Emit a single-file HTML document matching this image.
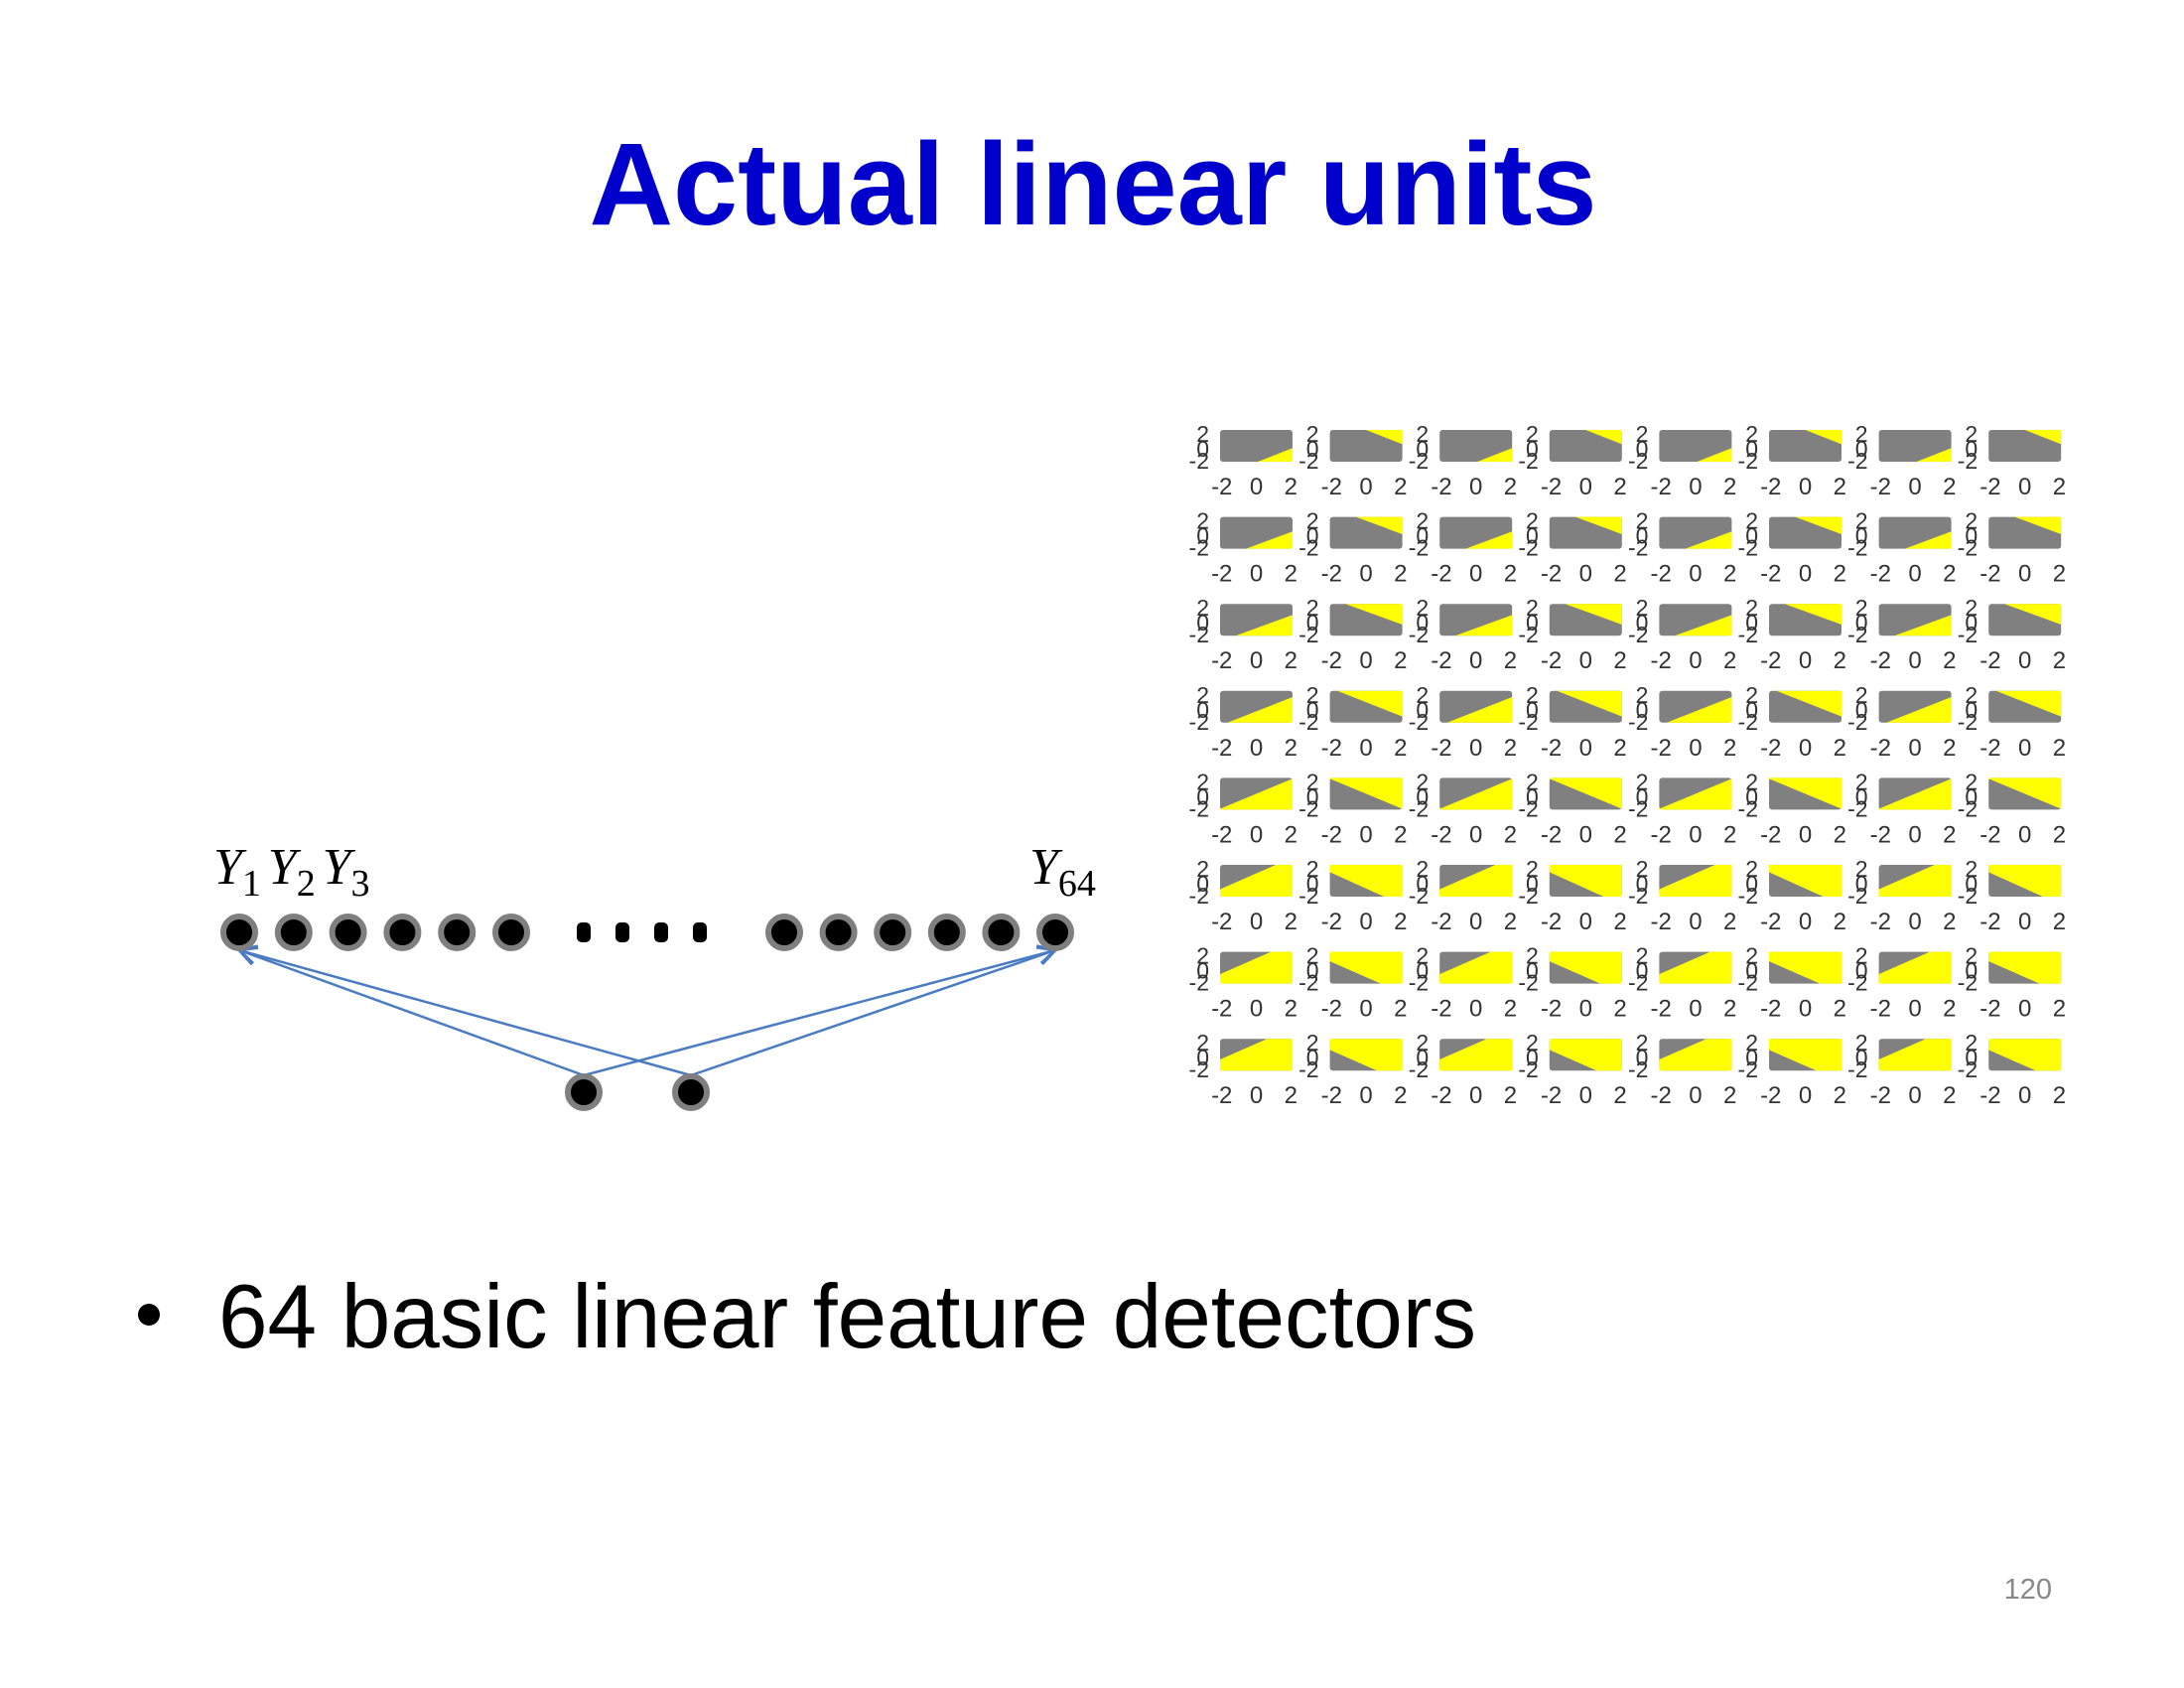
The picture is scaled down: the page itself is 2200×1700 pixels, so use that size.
<!DOCTYPE html>
<html><head><meta charset="utf-8"><style>
html,body{margin:0;padding:0;background:#fff;}
svg{display:block;}
</style></head><body>
<svg id="slide" width="2200" height="1700" viewBox="0 0 2200 1700" xmlns="http://www.w3.org/2000/svg">
<defs>
<marker id="arr" markerWidth="24" markerHeight="24" refX="20" refY="12" orient="auto" markerUnits="userSpaceOnUse">
<polyline points="3,3 20,12 3,21" fill="none" stroke="#4a7cc4" stroke-width="3"/>
</marker>
</defs>
<text x="1101" y="226" text-anchor="middle" font-family="Liberation Sans, sans-serif" font-weight="bold" font-size="118" fill="#0000cc" textLength="1015" lengthAdjust="spacingAndGlyphs">Actual linear units</text>

<g id="diagram"></g>

<g id="grid"></g>

<circle cx="150" cy="1324" r="11" fill="#000"/>
<text x="220" y="1357" font-family="Liberation Sans, sans-serif" font-size="91" fill="#000" textLength="1267" lengthAdjust="spacingAndGlyphs">64 basic linear feature detectors</text>
<text x="2067" y="1610" text-anchor="end" font-family="Liberation Sans, sans-serif" font-size="29" fill="#888">120</text>
</svg>
<script>
// panel grid data
const rowIds = [0,1,2,3,4,5,6,7];
const colIds = [0,1,2,3,4,5,6,7];
const risingSlope = [0.9,0.85,0.83,0.9,0.95,1.0,1.0,1.0];
const risingIntercept = [-2.18,-1.6,-1.11,-0.6,0.0,0.97,1.25,1.47];
const fallingSlope = [-0.9,-0.85,-0.83,-0.9,-0.95,-1.03,-1.0,-1.0];
const fallingIntercept = [2.1,1.6,1.11,0.6,0.0,-1.03,-1.25,-1.47];
const xTicks = ["-2","0","2"];
const xTickVals = [-2,0,2];

// diagram data
const topUnitsLeft = [0,1,2,3,4,5];
const topUnitsRight = [58,59,60,61,62,63];
const labels = [{i:0,t:"1"},{i:1,t:"2"},{i:2,t:"3"},{i:63,t:"64"}];

const NS = "http://www.w3.org/2000/svg";
function mk(tag, attrs, parent){const e=document.createElementNS(NS,tag);for(const k in attrs)e.setAttribute(k,attrs[k]);parent.appendChild(e);return e;}

// ---- grid ----
const grid = document.getElementById('grid');
const X0=1229, Y0=433, DX=110.6, DY=87.6, W=73, H=32, R=2.1;
function sx(x,ox){return ox + (x+R)/(2*R)*W;}
function sy(y,oy){return oy + (R-y)/(2*R)*H;}
function clip(poly, f){
  const out=[];
  for(let i=0;i<poly.length;i++){
    const a=poly[i], b=poly[(i+1)%poly.length];
    const fa=f(a), fb=f(b);
    if(fa>=0) out.push(a);
    if((fa>=0)!==(fb>=0)){const t=fa/(fa-fb);out.push([a[0]+t*(b[0]-a[0]),a[1]+t*(b[1]-a[1])]);}
  }
  return out;
}
rowIds.forEach(r=>{
  colIds.forEach(c=>{
    const ox=X0+c*DX, oy=Y0+r*DY;
    const g=mk('g',{},grid);
    
    
    const rect=mk('rect',{x:ox,y:oy,width:W,height:H,rx:3,fill:'#808080'},g);
    
    
    const box=[[-R,-R],[R,-R],[R,R],[-R,R]];
    let f;
    if(c%2===0){const m=risingSlope[r],b=risingIntercept[r];f=p=>(m*p[0]+b)-p[1];}
    else{const m=fallingSlope[r],b=fallingIntercept[r];f=p=>p[1]-(m*p[0]+b);}
    const poly=clip(box,f);
    if(poly.length>2){
      const pg=mk('polygon',{points:poly.map(p=>sx(p[0],ox).toFixed(1)+','+sy(p[1],oy).toFixed(1)).join(' '),fill:'#ffff00'},g);
      
      
    }
    const ty=[['2',oy+12],['0',oy+27],['-2',oy+39]];
    ty.forEach(t=>{
      const e=mk('text',{x:ox-11,y:t[1],'text-anchor':'end','font-family':'Liberation Sans, sans-serif','font-size':'23',fill:'#333'},g);
      e.textContent=t[0];
      
      
    });
    xTicks.forEach((t,i)=>{
      const e=mk('text',{x:sx(xTickVals[i],ox),y:oy+65,'text-anchor':'middle','font-family':'Liberation Sans, sans-serif','font-size':'24',fill:'#333'},g);
      e.textContent=t;
      
      
    });
  });
});

// ---- diagram ----
const dg=document.getElementById('diagram');
function ux(i){ if(i<6) return 241+i*54.8; return 790+(i-58)*54.6; }
const TY=939;
function unit(x,y){
  const c=mk('circle',{cx:x,cy:y,r:16,fill:'#000',stroke:'#7f7f7f','stroke-width':6},dg);
  
  
}
const bottom=[[588,1100],[696,1100]];
[0,63].forEach(t=>{
  bottom.forEach(b=>{
    const l=mk('line',{x1:b[0],y1:b[1]-17,x2:ux(t),y2:TY+18,stroke:'#4a7cc4','stroke-width':2.5,'marker-end':'url(#arr)'},dg);
    
    
  });
});
topUnitsLeft.concat(topUnitsRight).forEach(i=>unit(ux(i),TY));
bottom.forEach(b=>unit(b[0],b[1]));
[588,627,666,705].forEach(x=>{
  const e=mk('rect',{x:x-7,y:TY-10,width:14,height:20,rx:5,fill:'#000'},dg);
  
  
});
labels.forEach(L=>{
  const x=ux(L.i)-26;
  const t=mk('text',{x:x,y:890,'font-family':'Liberation Serif, serif','font-style':'italic','font-size':'52',fill:'#000'},dg);
  t.textContent='Y';
  const s=mk('tspan',{dy:12,'font-style':'normal','font-size':'38'},t);
  s.textContent=L.t;
  
  
});
</script>
</body></html>
